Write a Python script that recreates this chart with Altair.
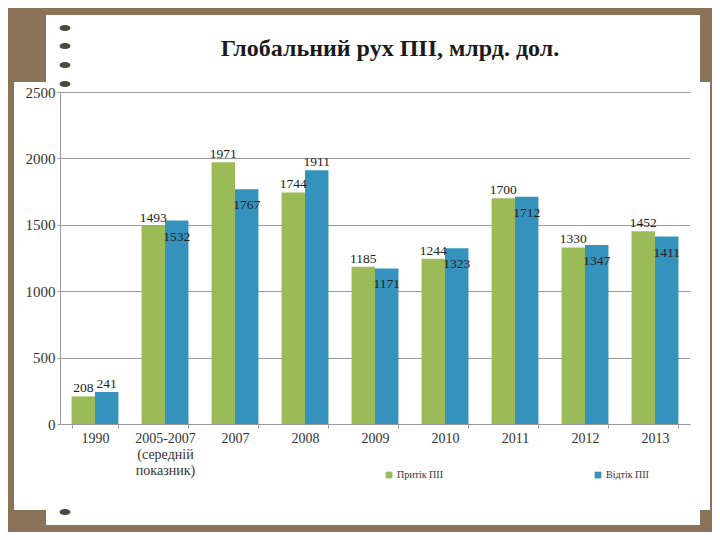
import altair as alt
import pandas as pd

# ---- data ----
categories = ["1990", "2005-2007|(середній|показник)", "2007", "2008", "2009",
              "2010", "2011", "2012", "2013"]
inflow = [208, 1493, 1971, 1744, 1185, 1244, 1700, 1330, 1452]
outflow = [241, 1532, 1767, 1911, 1171, 1323, 1712, 1347, 1411]
series = ["Притік ПІІ", "Відтік ПІІ"]
outflow_label_inside = [False, True, True, False, True, True, True, True, True]
title_text = "Глобальний рух ПІІ, млрд. дол."

GREEN = "#9bbb59"
BLUE = "#3592bd"
BROWN = "#8b735a"
SERIF = "'Liberation Serif', 'Times New Roman', serif"

rows = []
for i, c in enumerate(categories):
    rows.append({"cat": c, "series": series[0], "value": inflow[i], "inside": False})
    rows.append({"cat": c, "series": series[1], "value": outflow[i], "inside": outflow_label_inside[i]})
df = pd.DataFrame(rows)
one = pd.DataFrame({"k": [0]})

x_enc = alt.X("cat:N", sort=categories, title=None,
              scale=alt.Scale(paddingInner=0.33, paddingOuter=0.165),
              axis=alt.Axis(labelAngle=0, labelExpr="split(datum.label, '|')",
                            labelLineHeight=16, labelPadding=3, tickSize=4,
                            tickBand="extent", grid=False, labelFontSize=14))
xo_enc = alt.XOffset("series:N", sort=series,
                     scale=alt.Scale(paddingInner=0, paddingOuter=0))
y_enc = alt.Y("value:Q", title=None,
              scale=alt.Scale(domain=[0, 2500], nice=False),
              axis=alt.Axis(values=[0, 500, 1000, 1500, 2000, 2500], format="d",
                            labelFontSize=15, labelPadding=2, tickSize=3,
                            gridColor="#9a9a9a", gridWidth=1.2))

bars = alt.Chart(df).mark_bar().encode(
    x=x_enc, xOffset=xo_enc, y=y_enc,
    color=alt.Color("series:N", sort=series,
                    scale=alt.Scale(domain=series, range=[GREEN, BLUE]),
                    legend=alt.Legend(title=None, orient="none", legendX=324,
                                      legendY=378, direction="horizontal",
                                      symbolType="square", symbolSize=45,
                                      labelFont=SERIF, labelFontSize=10,
                                      labelColor="#333333", columnPadding=150,
                                      padding=0, labelOffset=3)),
)

lab_above = alt.Chart(df).transform_filter("!datum.inside").mark_text(
    baseline="bottom", dy=-1, font=SERIF, fontSize=13.5, color="#222222"
).encode(x=alt.X("cat:N", sort=categories), xOffset=xo_enc,
         y=alt.Y("value:Q"), text="value:Q")

lab_inside = alt.Chart(df).transform_filter("datum.inside").mark_text(
    baseline="top", dy=9, font=SERIF, fontSize=13.5, color="#222222"
).encode(x=alt.X("cat:N", sort=categories), xOffset=xo_enc,
         y=alt.Y("value:Q"), text="value:Q")


def rect(x1, x2, y1, y2, color):
    return alt.Chart(one).mark_rect(color=color).encode(
        x=alt.value(x1), x2=alt.value(x2), y=alt.value(y1), y2=alt.value(y2))


brown = [
    rect(-60, 660, -100, -77, BROWN),
    rect(-60, -14, -77, -10, BROWN),
    rect(-60, -46, -10, 418, BROWN),
    rect(-60, -14, 418, 433, BROWN),
    rect(-60, 660, 433, 450, BROWN),
    rect(640, 660, -77, -10, BROWN),
    rect(650, 660, -10, 418, BROWN),
    rect(640, 660, 418, 433, BROWN),
]

ellipse = "M-1.4,0 A1.4,0.8 0 1,0 1.4,0 A1.4,0.8 0 1,0 -1.4,0 Z"
spirals = [
    alt.Chart(one).mark_point(shape=ellipse, filled=True, color="#4d4a3c",
                              size=60, opacity=1).encode(
        x=alt.value(5), y=alt.value(yy))
    for yy in [-64, -46, -27, -8, 420]
]

title = alt.Chart(one).mark_text(
    text=title_text, font=SERIF, fontSize=24, fontWeight="bold",
    color="#1a1a1a", align="center", baseline="middle"
).encode(x=alt.value(330), y=alt.value(-43))

chart = alt.layer(*brown, *spirals, title, bars, lab_above, lab_inside).properties(
    width=630, height=332,
    padding={"left": 52, "top": 84, "right": 22, "bottom": 108},
    autosize=alt.AutoSizeParams(type="none"),
).configure(background="white").configure_view(stroke=None).configure_axis(
    labelFont=SERIF, labelColor="#333333", domainColor="#9a9a9a",
    tickColor="#9a9a9a"
)

chart.save("out.html", embed_options={"renderer": "svg", "actions": False})
